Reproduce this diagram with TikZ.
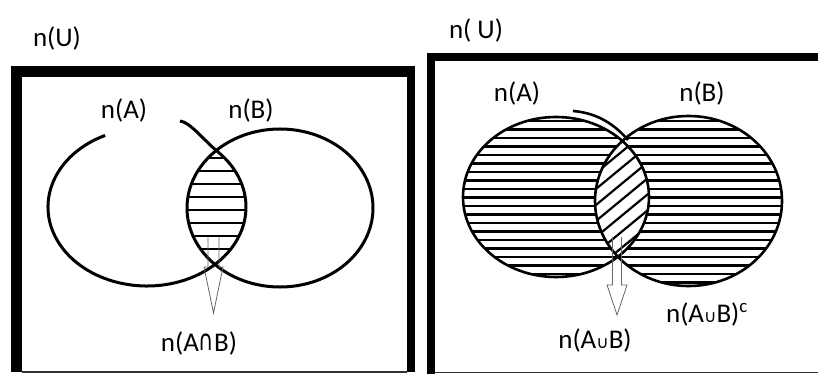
\documentclass[tikz,border=0pt]{standalone}
\usepackage{fontspec}
\setsansfont{Carlito}
\newfontfamily\symfont{DejaVu Sans}
\usetikzlibrary{positioning}

\tikzset{
  lbl/.style={font=\sffamily\fontsize{27}{30}\selectfont, inner sep=0pt},
  setline/.style={line width=3pt},
  hatchline/.style={line width=2.4pt},
  hollowarrow/.style={draw=black!60, line width=0.8pt, line join=miter}
}

\begin{document}
\begin{tikzpicture}[x=1pt, y=-1pt]
\useasboundingbox (0,0) rectangle (818,374);

% left universe frame
\fill (11,66) rectangle (415,77);
\fill (11,66) rectangle (22,372);
\fill (407,66) rectangle (415,372);
\draw[line width=1.2pt, black!80] (22,372) -- (407,372);

% right universe frame
\fill (427,53) rectangle (818,61);
\fill (427,53) rectangle (435,374);
\draw[line width=1.2pt, black!80] (435,372.5) -- (818,372.5);

% labels
\node (uL) [lbl] at (57,38) {n(U)};
\node (uR) [lbl] at (476,30) {n( U)};

\node (aL) [lbl] at (124,110) {n(A)};
\node (bL) [lbl] at (251,110) {n(B)};
\node (abL) [lbl] at (199,343) {n(A\raisebox{0.5pt}{\scalebox{0.95}[1.3]{\symfont\fontsize{22}{24}\selectfont ∩}}B)};

\node (aR) [lbl] at (517,93) {n(A)};
\node (bR) [lbl] at (702,93) {n(B)};
\node (aubR) [lbl] at (595,340) {n(A{\symfont\fontsize{17}{18}\selectfont ∪}B)};
\node (aubcR) [lbl, anchor=base] at (707,322) {n(A{\symfont\fontsize{17}{18}\selectfont ∪}B)\textsuperscript{c}};

% left: intersection shading
\begin{scope}
  \clip (147,207) ellipse [x radius=99, y radius=79];
  \clip (280,208) ellipse [x radius=93, y radius=79];
  \foreach \y in {158,171,...,255}
    \draw[hatchline] (170,\y) -- (260,\y);
\end{scope}

% left: sets A and B
\draw[setline] (147,207) ++(245:99 and 79)
  arc[start angle=245, end angle=-44.2, x radius=99, y radius=79]
  .. controls +(-14,-11.5) and (190,122) .. (180,121);
\draw[setline] (280,208) ellipse [x radius=93, y radius=79];

% left: arrow to n(A cap B)
\draw[hollowarrow, shift={(213.5,237)}]
  (-5.5,0) -- (-5.5,30) -- (-9.5,30) -- (0,76) -- (9.5,30) -- (5.5,30) -- (5.5,0);

% right: union shading
\begin{scope}[even odd rule]
  \clip (556,197) ellipse [x radius=93, y radius=80]
        (688.5,201) ellipse [x radius=93.5, y radius=85];
  \foreach \y in {121,129.5,...,290}
    \draw[line width=2.2pt] (455,\y) -- (790,\y);
\end{scope}
\begin{scope}
  \clip (556,197) ellipse [x radius=93, y radius=80];
  \clip (688.5,201) ellipse [x radius=93.5, y radius=85];
  \foreach \y in {150,166,...,340}
    \draw[line width=2.2pt] (585,\y) -- (665,\y-66);
\end{scope}

% right: sets A and B
\draw[line width=2.6pt] (556,197) ellipse [x radius=93, y radius=80];
\draw[line width=2.6pt] (688.5,201) ellipse [x radius=93.5, y radius=85];
\draw[line width=2.6pt] (573,111) .. controls (598,113) and (615,125) .. (628,140);

% right: arrow to n(A cup B)
\draw[hollowarrow, shift={(617,237)}]
  (-4.5,0) -- (-4.5,48) -- (-10,48) -- (0,78) -- (10,48) -- (4.5,48) -- (4.5,0);

\end{tikzpicture}
\end{document}
